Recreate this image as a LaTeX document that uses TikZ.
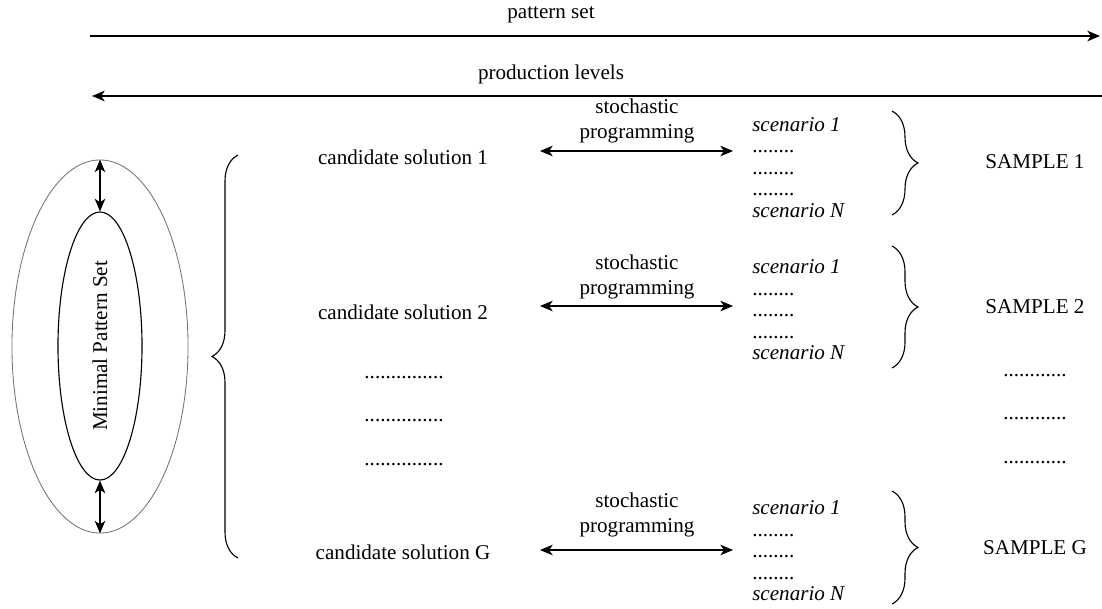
\documentclass[tikz,border=0pt]{standalone}
\usepackage{fontspec}
\setmainfont{Liberation Serif}
\usetikzlibrary{positioning}
\usetikzlibrary{shapes.geometric, arrows.meta, decorations.pathreplacing}
\tikzstyle{txt} = [font=\fontsize{15}{18}\selectfont, inner sep=0pt]
\tikzstyle{prog} = [font=\fontsize{15}{17.8}\selectfont, inner sep=0pt, align=center]
\tikzstyle{scen} = [font=\fontsize{15}{15.3}\selectfont, inner sep=0pt, align=left, anchor=west]
\tikzstyle{flow} = [line width=1pt, -{Stealth[length=9pt,width=7.5pt,inset=2.5pt]}]
\tikzstyle{dbl} = [line width=0.9pt, {Stealth[length=9pt,width=7.5pt,inset=2.5pt]}-{Stealth[length=9pt,width=7.5pt,inset=2.5pt]}]
\tikzstyle{brc} = [line width=0.8pt, decorate, decoration={brace, amplitude=0.65cm}]
\tikzstyle{oval} = [ellipse, draw, inner sep=0pt]

\begin{document}
\begin{tikzpicture}[x=0.025cm, y=-0.025cm]
    \useasboundingbox (0,0) rectangle (1102,608);

    \node (ps_label) at (551,15) [txt] {pattern set};
    \coordinate (ps_start) at (90,36);
    \coordinate (ps_end) at (1100,36);
    \draw [flow] (ps_start) -- (ps_end);

    \node (pl_label) at (551,74) [txt] {production levels};
    \coordinate (pl_start) at (1102,96);
    \coordinate (pl_end) at (92,96);
    \draw [flow] (pl_start) -- (pl_end);

    \node (outer) at (100,346.5) [oval, draw=black!55, line width=0.6pt, minimum width=4.4cm, minimum height=9.325cm] {};
    \node (inner) at (100,346) [oval, line width=0.8pt, minimum width=2.1cm, minimum height=6.7cm] {};
    \node (mps) at (inner.center) [txt, rotate=90] {Minimal Pattern Set};
    \draw [dbl] (outer.north) -- (inner.north);
    \draw [dbl] (inner.south) -- (outer.south);

    \coordinate (lb_bot) at (238,558);
    \coordinate (lb_top) at (238,155);
    \draw [brc] (lb_bot) -- (lb_top);

    \node (cand1) at (403,157) [txt] {candidate solution 1};
    \node (cand2) at (403,312) [txt] {candidate solution 2};
    \node (gap1) at (404,378) [txt] {...............};
    \node (gap2) at (404,421) [txt] {...............};
    \node (gap3) at (404,465) [txt] {...............};
    \node (candG) at (403,552) [txt] {candidate solution G};

    \node (prog1) at (637,120.5) [prog] {stochastic\\programming};
    \coordinate (a1_left) at (540,151);
    \coordinate (a1_right) at (733,151);
    \draw [dbl] (a1_left) -- (a1_right);

    \node (prog2) at (637,277) [prog] {stochastic\\programming};
    \coordinate (a2_left) at (540,306);
    \coordinate (a2_right) at (733,306);
    \draw [dbl] (a2_left) -- (a2_right);

    \node (progG) at (637,515) [prog] {stochastic\\programming};
    \coordinate (aG_left) at (540,550);
    \coordinate (aG_right) at (733,550);
    \draw [dbl] (aG_left) -- (aG_right);

    \node (scen1) at (752,167.5) [scen] {\textit{scenario 1}\\........\\........\\........\\\textit{scenario N}};
    \node (scen2) at (752,310) [scen] {\textit{scenario 1}\\........\\........\\........\\\textit{scenario N}};
    \node (scenG) at (752,551) [scen] {\textit{scenario 1}\\........\\........\\........\\\textit{scenario N}};

    \coordinate (rb1_top) at (892,111);
    \coordinate (rb1_bot) at (892,215);
    \draw [brc] (rb1_top) -- (rb1_bot);
    \coordinate (rb2_top) at (892,246);
    \coordinate (rb2_bot) at (892,368);
    \draw [brc] (rb2_top) -- (rb2_bot);
    \coordinate (rbG_top) at (892,491);
    \coordinate (rbG_bot) at (892,604);
    \draw [brc] (rbG_top) -- (rbG_bot);

    \node (samp1) at (1035,162) [txt] {SAMPLE 1};
    \node (samp2) at (1035,307) [txt] {SAMPLE 2};
    \node (sgap1) at (1035,376) [txt] {............};
    \node (sgap2) at (1035,419) [txt] {............};
    \node (sgap3) at (1035,463) [txt] {............};
    \node (sampG) at (1035,548) [txt] {SAMPLE G};

\end{tikzpicture}
\end{document}
